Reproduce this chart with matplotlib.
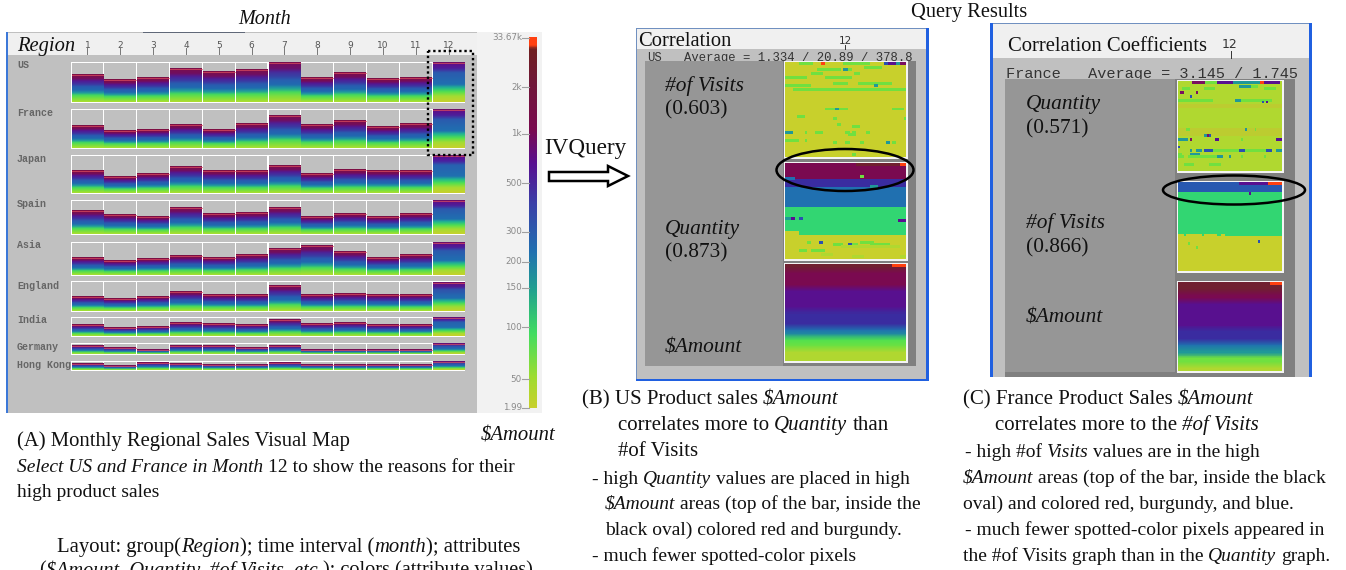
import numpy as np
import matplotlib
matplotlib.use('Agg')
import matplotlib.pyplot as plt
from matplotlib.colors import LinearSegmentedColormap, to_rgb
from matplotlib.patches import Rectangle, Ellipse, Polygon

plt.rcParams['font.family'] = ['Liberation Serif', 'DejaVu Serif']

# Visual map: bar height of each month per region
regions = ['US', 'France', 'Japan', 'Spain', 'Asia', 'England', 'India', 'Germany', 'Hong Kong']
months = ['1', '2', '3', '4', '5', '6', '7', '8', '9', '10', '11', '12']
us = [28, 23, 25, 34, 31, 33, 41, 25, 30, 24, 25, 40]
france = [23, 18, 19, 24, 19, 25, 33, 24, 28, 22, 25, 39]
japan = [23, 17, 20, 27, 23, 23, 28, 20, 24, 23, 23, 39]
spain = [24, 20, 18, 27, 21, 22, 27, 18, 21, 18, 21, 34]
asia = [18, 15, 17, 20, 18, 21, 27, 30, 24, 18, 21, 33]
england = [15, 13, 15, 20, 17, 17, 26, 17, 18, 17, 17, 29]
india = [12, 9, 10, 14, 13, 12, 17, 13, 14, 12, 12, 20]
germany = [9, 7, 5, 9, 9, 7, 9, 5, 5, 5, 5, 11]
hong_kong = [7, 5, 8, 7, 6, 6, 8, 6, 6, 6, 6, 9]
all_rows = [us, france, japan, spain, asia, england, india, germany, hong_kong]

scale_labels = ['33.67k', '2k', '1k', '500', '300', '200', '150', '100', '50', '1.99']

# Query result cells: (end row, colour) bands, then (row, first col, last col, colour) spots
US_COLS, US_ROWS = 60, 48
us_visits_bands = [(48, 'olive')]
us_visits_spots = [
    (0, 7, 14, 'g'), (0, 18, 20, 'r'), (0, 29, 42, 'g'), (0, 49, 51, 'b'), (0, 51, 55, 'p'), (0, 55, 57, 't'), (0, 57, 60, 'm'),
    (2, 39, 48, 'g'), (3, 16, 28, 'g'), (3, 29, 31, 't'), (3, 31, 33, 'g'), (5, 13, 19, 'g'), (5, 34, 37, 'g'),
    (7, 0, 11, 'g'), (7, 20, 33, 'g'), (10, 24, 31, 'g'), (10, 36, 53, 'g'), (11, 0, 13, 'g'), (11, 44, 46, 't'),
    (13, 4, 60, 'g'), (23, 20, 31, 'g'), (23, 25, 27, 't'), (23, 53, 59, 'g'), (27, 6, 10, 'g'), (28, 24, 26, 'g'),
    (28, 59, 60, 'g'), (31, 26, 28, 'g'), (32, 33, 37, 'g'), (35, 0, 4, 't'), (35, 10, 11, 'g'), (35, 15, 19, 'g'),
    (35, 30, 32, 'g'), (35, 33, 35, 'g'), (35, 40, 42, 'g'), (36, 31, 35, 'g'), (39, 0, 7, 'g'), (39, 10, 11, 'g'),
    (40, 24, 26, 'g'), (40, 30, 32, 'g'), (40, 37, 39, 'g'), (40, 50, 52, 't'), (40, 53, 55, 'g'), (46, 33, 35, 'g'),
]
us_quantity_bands = [(8, 'maroon'), (12, 'indigo'), (22, 'blue'), (36, 'green'), (48, 'olive')]
us_quantity_spots = [
    (0, 35, 57, 'dark'), (0, 57, 60, 'r'), (6, 37, 39, 'g'), (7, 0, 5, 'blue'), (11, 42, 46, 't'),
    (27, 0, 3, 't'), (27, 3, 5, 'p'), (27, 7, 9, 'b'), (28, 56, 60, 'p'), (34, 0, 7, 'olive'), (35, 0, 7, 'olive'),
    (39, 11, 13, 'g'), (39, 17, 19, 'b'), (39, 37, 44, 'g'), (40, 24, 29, 'g'), (40, 31, 33, 'b'), (40, 33, 36, 'g'),
    (40, 42, 52, 'g'), (41, 28, 57, 'lime'), (43, 7, 11, 'g'), (43, 13, 20, 'g'), (45, 18, 24, 'lime'),
    (46, 33, 39, 'lime'), (46, 57, 60, 'lime'),
]
us_amount_bands = [(3, 'dark'), (12, 'maroon'), (23, 'p'), (31, 'indigo'), (34, 'blue'), (36, 't'), (39, 'green2'), (42, 'g'), (48, 'lime')]
us_amount_spots = [(0, 53, 60, 'r')]

FR_COLS, FR_ROWS = 53, 46
fr_quantity_bands = [(12, 'lime'), (14, 'olive2'), (24, 'lime'), (28, 'olive2'), (46, 'lime')]
fr_quantity_spots = [
    (0, 7, 14, 'm'), (0, 14, 20, 'g'), (0, 20, 28, 'p'), (0, 28, 42, 't'), (0, 42, 44, 'r'), (0, 44, 46, 'p'), (0, 46, 52, 'p'),
    (2, 31, 37, 't'), (2, 37, 41, 'g'), (3, 2, 6, 'g'), (3, 13, 19, 'g'), (3, 44, 50, 'g'), (5, 1, 3, 'm'), (5, 9, 10, 'm'),
    (7, 6, 7, 'b'), (9, 0, 18, 'g'), (9, 29, 32, 't'), (9, 32, 48, 'g'), (10, 43, 44, 'b'), (10, 45, 46, 'p'),
    (24, 4, 6, 'g'), (24, 34, 35, 't'), (24, 39, 40, 'g'), (27, 13, 15, 't'), (27, 15, 16, 'm'), (27, 16, 17, 'b'),
    (29, 0, 5, 't'), (29, 6, 7, 'm'), (29, 19, 21, 'p'), (29, 32, 33, 'g'), (29, 50, 53, 'p'), (33, 0, 1, 'b'),
    (35, 6, 7, 't'), (35, 9, 12, 't'), (35, 13, 15, 'b'), (35, 15, 18, 'b'), (35, 18, 31, 'g'), (35, 31, 34, 'b'),
    (35, 34, 45, 'g'), (35, 45, 48, 'b'), (35, 50, 53, 't'), (37, 0, 2, 'g'), (37, 6, 11, 't'),
    (38, 0, 3, 'g'), (38, 5, 16, 'g'), (38, 16, 20, 'g'), (38, 20, 23, 't'), (38, 26, 27, 't'), (38, 32, 33, 'g'), (38, 44, 45, 'g'),
    (42, 3, 8, 'g'), (42, 16, 22, 'g'),
]
fr_visits_bands = [(5, 'blue2'), (28, 'green'), (46, 'olive')]
fr_visits_spots = [
    (0, 31, 46, 'p'), (0, 46, 53, 'r'), (5, 36, 37, 'p'), (5, 0, 1, 'green'),
    (27, 0, 3, 'olive'), (27, 4, 12, 'olive'), (27, 13, 20, 'olive'), (27, 22, 24, 'olive'),
    (30, 41, 42, 'b'), (31, 5, 6, 'g'), (33, 9, 10, 'g'),
]
fr_amount_bands = [(5, 'dark'), (10, 'maroon'), (24, 'p'), (31, 'indigo'), (34, 'blue'), (38, 't'), (43, 'g'), (46, 'lime')]
fr_amount_spots = [(0, 47, 53, 'r')]

cell_colors = {
    'olive': '#c8d02c', 'olive2': '#bccc30', 'g': '#70e040', 'lime': '#b0d830', 'green': '#32d672', 'green2': '#50e050',
    't': '#209898', 'b': '#2a50b0', 'blue': '#2070b0', 'blue2': '#2858b0', 'indigo': '#3a2ca0', 'p': '#581090',
    'm': '#7a1060', 'maroon': '#7a0a50', 'dark': '#702030', 'r': '#ff4010',
}

# colour ramps for the sales bars: ordinary months and the taller December bars
low_ramp = LinearSegmentedColormap.from_list('low', [
    (0, '#a8e030'), (.12, '#70e040'), (.24, '#40d860'), (.32, '#2098a0'), (.42, '#2068b0'), (.55, '#2a5ab0'),
    (.64, '#4030a0'), (.76, '#581090'), (.85, '#7a0a50'), (1, '#80103f')])
high_ramp = LinearSegmentedColormap.from_list('high', [
    (0, '#c8d02c'), (.14, '#a8dc30'), (.26, '#50e050'), (.36, '#20b890'), (.44, '#2070b0'),
    (.74, '#2860b0'), (.85, '#4a20a0'), (.95, '#5a1090'), (1, '#701060')])
scale_ramp = LinearSegmentedColormap.from_list('scale', [
    (0, '#c8d02c'), (.08, '#a0dc30'), (.2, '#40dc60'), (.32, '#20a090'), (.42, '#2070b0'), (.55, '#3a40a8'),
    (.66, '#581090'), (.75, '#7a0a50'), (.88, '#701838'), (.97, '#702020'), (.98, '#ff4010'), (1, '#ff4010')])

fig = plt.figure(figsize=(13.46, 5.7), dpi=100)
ax = fig.add_axes([0, 0, 1, 1])
ax.axis('off')
renderer = fig.canvas.get_renderer()


def box(x0, y0, x1, y1, color, z=1, **kw):
    ax.add_patch(Rectangle((x0, y0), x1 - x0, y1 - y0, facecolor=color, edgecolor='none', zorder=z, **kw))


def rich(x, y, line, size=14, z=10):
    # *...* marks the italic parts of a line
    for i, part in enumerate(line.split('*')):
        if not part:
            continue
        lead = len(part) - len(part.lstrip())
        x += lead * size * 0.25 / 0.72
        t = ax.text(x, y + 1.5, part.strip(), fontsize=size, style='italic' if i % 2 else 'normal', va='center', ha='left',
                    color='#111111', zorder=z, parse_math=False)
        x += t.get_window_extent(renderer).width
        x += (len(part) - len(part.rstrip())) * size * 0.25 / 0.72


def heat(x0, y0, x1, y1, ncols, nrows, bands, spots, smooth=False):
    # grid has two lines per row so a spot can stand a bit taller than one row
    grid = np.zeros((nrows * 2, ncols, 3))
    start = 0
    for end, key in bands:
        grid[start * 2:end * 2, :] = to_rgb(cell_colors[key])
        start = end
    if smooth:
        pad = np.pad(grid, ((3, 3), (0, 0), (0, 0)), mode='edge')
        grid = sum(pad[k:k + nrows * 2] for k in range(7)) / 7
    for row, c0, c1, key in spots:
        grid[row * 2:row * 2 + 3, c0:c1] = to_rgb(cell_colors[key])
    box(x0 - 1.5, y0 - 1.5, x1 + 1.5, y1 + 1.5, '#f4f4f4', z=4)
    ax.imshow(grid, extent=(x0, x1, y1, y0), origin='upper', aspect='auto', interpolation='nearest', zorder=5)


# ---- panel A: visual map window
box(6, 32, 477, 413, '#c0c0c0')
box(8, 33, 477, 55, '#f0f0f0', z=2)
box(6, 32, 8, 413, '#3c78d8', z=3)
box(143, 32, 245, 33, '#606878', z=3)
box(477, 32, 542, 413, '#f2f2f2')

map_x0, map_x1 = 71, 465
col_w = (map_x1 - map_x0) / len(months)
row_tops = [62, 109, 155, 200, 242, 281, 317, 343, 361]
row_bottoms = [103, 149, 194, 235, 276, 312, 337, 355, 371]
label_ys = [65, 113, 159, 204, 245, 286, 320, 347, 365]

for name, vals, top, bottom, ly in zip(regions, all_rows, row_tops, row_bottoms, label_ys):
    ax.text(17, ly, name, fontsize=7.2, family='Liberation Mono', color='#505050', va='center', zorder=6, weight='bold', alpha=.8)
    box(map_x0, top, map_x1, bottom, '#ffffff', z=2)
    for j, h in enumerate(vals):
        x0 = map_x0 + j * col_w + .6
        x1 = map_x0 + (j + 1) * col_w - .6
        box(x0, top + .6, x1, bottom - .6, '#c0c0c0', z=3)
        h_top = max(bottom - h, top + .6)
        ramp = np.linspace(1, 0, 64)
        blend = (h / (bottom - top)) ** 3 * (1 if j == 11 else .35)
        rgb = low_ramp(ramp)[:, :3] * (1 - blend) + high_ramp(ramp)[:, :3] * blend
        ax.imshow(rgb[:, None, :], extent=(x0, x1, bottom - .6, h_top), origin='upper', aspect='auto',
                  interpolation='bilinear', zorder=4)
        ax.plot([x0, x1], [h_top, h_top], color='#e05060', lw=.7, alpha=.7, zorder=5)

for j, m in enumerate(months):
    x = map_x0 + (j + .5) * col_w
    ax.text(x, 45, m, fontsize=6.5, color='#555555', ha='center', va='center', family='DejaVu Sans', zorder=6)
    ax.plot([x, x], [48, 54], color='#777777', lw=.7, zorder=6)

ax.add_patch(Rectangle((427.5, 51), 45.5, 104, fill=False, edgecolor='black', linestyle=(0, (1, 1.2)), lw=1.7, zorder=8))
ax.text(265, 19, 'Month', fontsize=14.5, style='italic', ha='center', va='center', color='#111111')
ax.text(17, 46, 'Region', fontsize=14.8, style='italic', va='center', color='#111111', zorder=6)

# colour scale
scale_ys = [38, 87, 134, 183, 232, 262, 288, 327, 379, 408]
ax.imshow(scale_ramp(np.linspace(1, 0, 256))[:, None, :3], extent=(529, 537, 408, 37), origin='upper', aspect='auto', zorder=3)
for lab, y in zip(scale_labels, scale_ys):
    ax.text(522, y, lab, fontsize=6.3, color='#8a8a8a', ha='right', va='center', family='DejaVu Sans', zorder=3)
    ax.plot([522, 529], [y, y], color='#a0a0a0', lw=.8, zorder=3)

# ---- IVQuery arrow
rich(544, 147, 'IVQuery', size=16.7)
ax.add_patch(Polygon([(549, 172), (608, 172), (608, 166), (628, 176), (608, 186), (608, 181), (549, 181)],
                     closed=True, facecolor='white', edgecolor='black', lw=1.8, zorder=6))
ax.text(969, 12, 'Query Results', fontsize=14.7, ha='center', va='center', color='#111111')

# ---- panel B: US
box(636, 28, 929, 381, '#7090c0')
box(926, 28, 929, 381, '#2060e0', z=1.5)
box(636, 379, 929, 381, '#2060e0', z=1.5)
box(637, 29, 926, 379, '#c0c0c0', z=2)
box(637, 29, 926, 49, '#f0f0f0', z=2)
ax.text(647, 58, 'US', fontsize=8.8, family='Liberation Mono', color='#333333', va='center', zorder=3)
ax.text(684, 58, 'Average = 1.334 / 20.89 / 378.8', fontsize=8.8, family='Liberation Mono', color='#333333', va='center', zorder=3)
box(645, 61, 783, 366, '#969696', z=3.5)
box(783, 61, 916, 366, '#808080', z=3.5)
heat(785, 62, 906, 157, US_COLS, US_ROWS, us_visits_bands, us_visits_spots)
heat(785, 163, 906, 259, US_COLS, US_ROWS, us_quantity_bands, us_quantity_spots)
heat(785, 264, 906, 361, US_COLS, US_ROWS, us_amount_bands, us_amount_spots, smooth=True)
ax.add_patch(Ellipse((845, 170), 137, 42, fill=False, edgecolor='black', lw=1.8, zorder=7))
rich(638, 40, 'Correlation', size=14.8)
ax.text(845, 41, '12', fontsize=7.5, family='DejaVu Sans', ha='center', va='center', color='#333333', zorder=6)
ax.plot([845, 845], [45, 49], color='#333333', lw=.7, zorder=6)
rich(665, 85, '*#of Visits*', size=15.4)
rich(665, 108, '(0.603)', size=15.4)
rich(665, 228, '*Quantity*', size=15.4)
rich(665, 251, '(0.873)', size=15.4)
rich(665, 347, '*$Amount*', size=15.4)

# ---- panel C: France
box(990, 23, 1312, 377, '#2060e0')
box(993, 23, 1309, 24, '#7090c0', z=1.5)
box(993, 24, 1309, 377, '#c0c0c0', z=2)
box(993, 24, 1309, 58, '#f0f0f0', z=2)
ax.text(1006, 74, 'France   Average = 3.145 / 1.745', fontsize=11, family='Liberation Mono', color='#333333', va='center', zorder=3)
box(1005, 79, 1175, 377, '#969696', z=3.5)
box(1175, 79, 1295, 377, '#808080', z=3.5)
box(1005, 372, 1295, 377, '#808080', z=3.6)
heat(1178, 81, 1282, 171, FR_COLS, FR_ROWS, fr_quantity_bands, fr_quantity_spots)
heat(1178, 182, 1282, 271, FR_COLS, FR_ROWS, fr_visits_bands, fr_visits_spots)
heat(1178, 282, 1282, 371, FR_COLS, FR_ROWS, fr_amount_bands, fr_amount_spots, smooth=True)
ax.add_patch(Ellipse((1234, 190), 142, 29, fill=False, edgecolor='black', lw=1.8, zorder=7))
rich(1008, 45, 'Correlation Coefficients', size=14.9)
ax.text(1230, 44, '12', fontsize=9, family='DejaVu Sans', ha='center', va='center', color='#333333', zorder=6)
ax.plot([1231, 1231], [51, 58], color='#333333', lw=.7, zorder=6)
rich(1026, 103, '*Quantity*', size=15.4)
rich(1026, 127, '(0.571)', size=15.4)
rich(1026, 222, '*#of Visits*', size=15.4)
rich(1026, 246, '(0.866)', size=15.4)
rich(1026, 317, '*$Amount*', size=15.4)

# ---- captions
rich(17, 440, '(A) Monthly Regional Sales Visual Map', size=14.9)
rich(481, 435, '*$Amount*', size=14.9)
rich(17, 466, '*Select US and France in Month* 12 to show the reasons for their')
rich(17, 491, 'high product sales')
rich(57, 546, 'Layout: group(*Region*); time interval (*month*); attributes', size=14.9)
rich(39, 569, '(*$Amount, Quantity, #of Visits, etc.*); colors (attribute values)', size=14.6)

rich(582, 398, '(B) US Product sales *$Amount*', size=15)
rich(618, 424, 'correlates more to *Quantity* than', size=15)
rich(618, 450, '#of Visits', size=15)
rich(592, 478, '- high *Quantity* values are placed in high')
rich(605, 503, '*$Amount* areas (top of the bar, inside the')
rich(605, 529, 'black oval) colored red and burgundy.')
rich(592, 555, '- much fewer spotted-color pixels')

rich(963, 398, '(C) France Product Sales *$Amount*', size=15)
rich(995, 424, 'correlates more to the *#of Visits*', size=15)
rich(965, 451, '- high #of *Visits* values are in the high')
rich(963, 477, '*$Amount* areas (top of the bar, inside the black')
rich(963, 503, 'oval) and colored red, burgundy, and blue.')
rich(965, 529, '- much fewer spotted-color pixels appeared in')
rich(963, 555, 'the #of Visits graph than in the *Quantity* graph.')

ax.set_xlim(0, 1346)
ax.set_ylim(570, 0)
fig.savefig('out.png', dpi=100, facecolor='white')
